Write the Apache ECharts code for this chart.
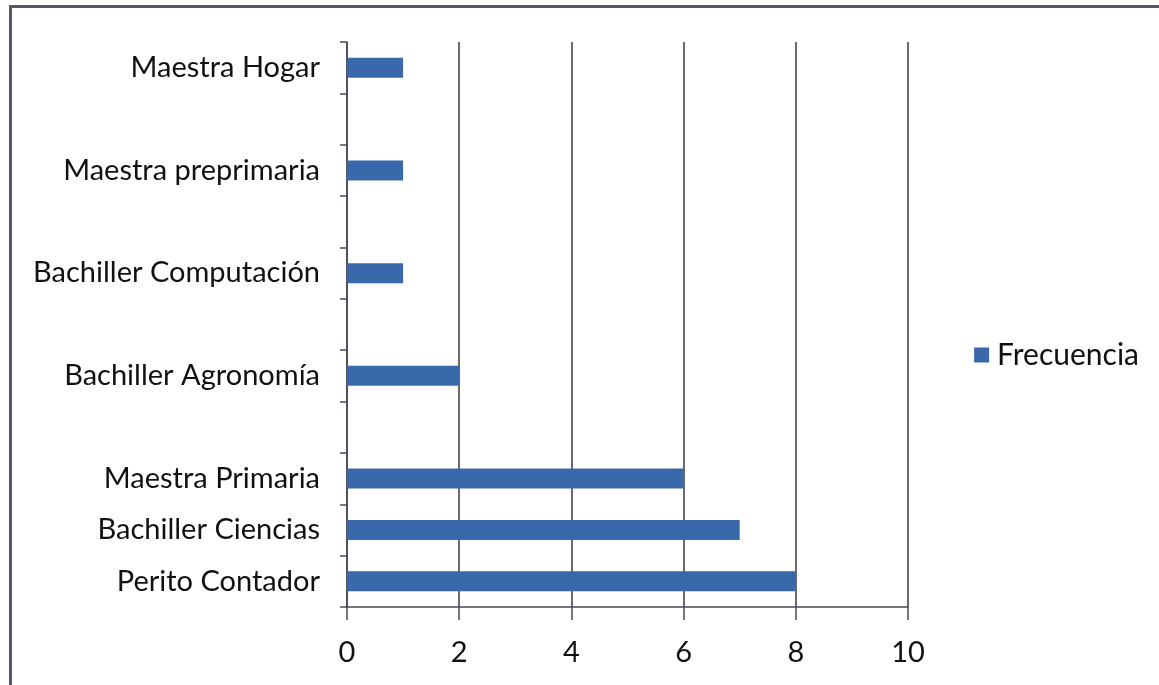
<!DOCTYPE html>
<html>
<head>
<meta charset="utf-8">
<script src="https://cdn.jsdelivr.net/npm/echarts@6/dist/echarts.min.js"></script>
<style>
html, body { margin: 0; padding: 0; background: #fff; }
#frame { position: absolute; left: 9px; top: 5px; width: 1160px; height: 690px; border-left: 3px solid #55566a; border-top: 3px solid #55566a; box-sizing: border-box; }
#chart { position: absolute; left: 0; top: 0; width: 1159px; height: 685px; }
</style>
</head>
<body>
<div id="frame"></div>
<div id="chart"></div>
<script>
// categorias de abajo hacia arriba (los huecos vacios separan las de arriba)
var categorias = ['Perito Contador', 'Bachiller Ciencias', 'Maestra Primaria', '',
	'Bachiller Agronomía', '', 'Bachiller Computación', '', 'Maestra preprimaria', '', 'Maestra Hogar'];
var frecuencia = [8, 7, 6, null, 2, null, 1, null, 1, null, 1];
var ticksX = [0, 2, 4, 6, 8, 10];

var myChart = echarts.init(document.getElementById('chart'));
var fuente = 'Lato, "Open Sans", sans-serif';

var option = {
	animation: false,
	grid: { left: 347, right: 251, top: 42, bottom: 78 },
	legend: {
		right: 15,
		top: 335,
		orient: 'vertical',
		icon: 'rect',
		itemWidth: 15,
		itemHeight: 15,
		itemGap: 8,
		textStyle: { fontFamily: fuente, fontSize: 30, color: '#111', padding: [0, 0, 0, 3] },
		data: ['Frecuencia']
	},
	xAxis: {
		type: 'value',
		min: 0,
		max: 10,
		interval: 2,
		axisLine: { show: true, lineStyle: { color: '#4a4a5a', width: 1.5 } },
		axisTick: { show: true, length: 13, lineStyle: { color: '#4a4a5a', width: 1.5 } },
		splitLine: { show: true, lineStyle: { color: '#3a3a3a', width: 1.5 } },
		axisLabel: {
			margin: 31,
			fontFamily: fuente,
			fontSize: 29,
			color: '#111',
			formatter: function (v) { return ticksX.indexOf(v) >= 0 ? String(v) : ''; }
		}
	},
	yAxis: {
		type: 'category',
		data: categorias,
		axisLine: { show: true, lineStyle: { color: '#4a4a5a', width: 1.5 } },
		axisTick: { show: true, length: 7, lineStyle: { color: '#4a4a5a', width: 1.5 } },
		axisLabel: {
			margin: 27,
			fontFamily: fuente,
			fontSize: 29,
			color: '#111',
			interval: 0
		}
	},
	series: [{
		name: 'Frecuencia',
		type: 'bar',
		barWidth: 20,
		itemStyle: { color: '#3a69ab' },
		data: frecuencia
	}]
};

myChart.setOption(option);
</script>
</body>
</html>
